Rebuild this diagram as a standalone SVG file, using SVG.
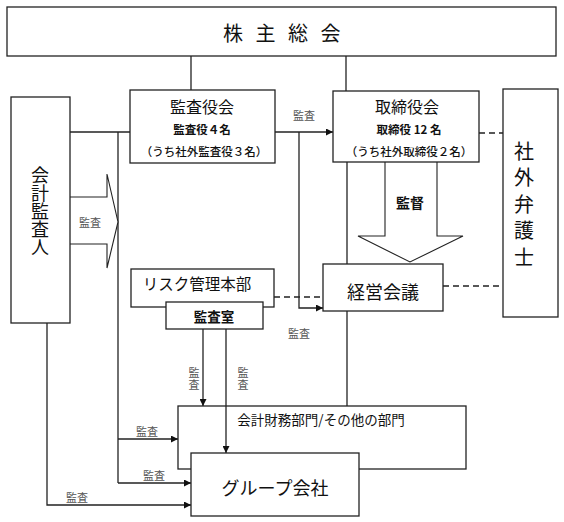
<svg xmlns="http://www.w3.org/2000/svg" width="564" height="522" viewBox="0 0 564 522">
<style>
text{font-family:"Noto Sans CJK JP","Noto Sans",sans-serif;fill:#111;dominant-baseline:central;text-anchor:middle}
.box{fill:#fff;stroke:#222;stroke-width:1.3}
.ln{fill:none;stroke:#222;stroke-width:1.3}
.dash{fill:none;stroke:#222;stroke-width:1.5;stroke-dasharray:6 4}
.big{fill:#fff;stroke:#222;stroke-width:1.1}
.lbl{font-size:11px;fill:#555}
.sm{font-size:11.5px}
.vert{writing-mode:vertical-rl;text-anchor:start}
</style>
<defs>
<marker id="ah" viewBox="0 0 10 10" refX="10" refY="5" markerWidth="7" markerHeight="7" markerUnits="userSpaceOnUse" orient="auto">
<path d="M0,0 L10,5 L0,10 z" fill="#111"/>
</marker>
</defs>
<rect x="0" y="0" width="564" height="522" fill="#fff"/>

<g id="connectors">
<path class="ln" d="M191,56 V90"/>
<path class="ln" d="M346,56 V91"/>
<path class="ln" d="M70,132 H130"/>
<path class="ln" d="M275,132 H333" marker-end="url(#ah)"/>
<path class="ln" d="M118,132 V483"/>
<path class="ln" d="M118,439 H178" marker-end="url(#ah)"/>
<path class="ln" d="M118,483 H191" marker-end="url(#ah)"/>
<path class="ln" d="M47,323 V505 H191" marker-end="url(#ah)"/>
<path class="ln" d="M299,132 V308 H323" marker-end="url(#ah)"/>
<path class="ln" d="M347,162 V264"/>
<path class="ln" d="M347,311 V406"/>
<path class="ln" d="M203,329 V406" marker-end="url(#ah)"/>
<path class="dash" d="M479,133 H503"/>
<path class="dash" d="M274,297 H323"/>
<path class="dash" d="M443,286 H503"/>
<path class="big" d="M70,197 H107 V174 L118,222 L107,268 V244 H70"/>
<path class="big" d="M385,162 V236 H358 L410,262 L463,236 H437 V162"/>
<text class="lbl" x="90" y="222">監査</text>
<text class="lbl" x="304" y="115">監査</text>
<text x="410" y="202" style="font-size:14px;font-weight:bold">監督</text>
<text class="lbl" x="299" y="333">監査</text>
<text class="lbl vert" x="194" y="367" style="letter-spacing:1px">監査</text>
<text class="lbl vert" x="243" y="367" style="letter-spacing:1px">監査</text>
<text class="lbl" x="147" y="431">監査</text>
<text class="lbl" x="154" y="475">監査</text>
<text class="lbl" x="77" y="497">監査</text>
</g>

<g id="shareholders">
<rect class="box" x="7" y="7" width="549" height="49"/>
<text x="282" y="32" style="font-size:20px;letter-spacing:12.5px" dx="6">株主総会</text>
</g>

<g id="auditor">
<rect class="box" x="11" y="97" width="59" height="226"/>
<text class="vert" x="40" y="166" style="font-size:18px">会計監査人</text>
</g>

<g id="kansayakukai">
<rect class="box" x="130" y="90" width="145" height="73"/>
<text x="202" y="106" style="font-size:16px">監査役会</text>
<text class="sm" x="202" y="129" style="font-weight:bold">監査役４名</text>
<text class="sm" x="204" y="151" style="font-weight:500">（うち社外監査役３名）</text>
</g>

<g id="torishimariyakukai">
<rect class="box" x="333" y="91" width="146" height="71"/>
<text x="407" y="106" style="font-size:16px">取締役会</text>
<text class="sm" x="409" y="129" style="font-weight:bold">取締役 12 名</text>
<text class="sm" x="409" y="151" style="font-weight:500">（うち社外取締役２名）</text>
</g>

<g id="lawyer">
<rect class="box" x="503" y="89" width="55" height="228"/>
<text class="vert" x="524" y="141" style="font-size:20px;letter-spacing:6.5px">社外弁護士</text>
</g>

<g id="keiei">
<rect class="box" x="323" y="264" width="120" height="47"/>
<text x="383" y="291" style="font-size:18px">経営会議</text>
</g>

<g id="risk">
<rect class="box" x="131" y="269" width="143" height="38"/>
<text x="197" y="283" style="font-size:15.5px">リスク管理本部</text>
</g>

<g id="kansashitsu">
<rect class="box" x="166" y="302" width="97" height="27"/>
<text x="214" y="316" style="font-size:13.5px;font-weight:bold">監査室</text>
</g>

<g id="departments">
<rect class="box" x="178" y="406" width="288" height="63"/>
<text x="321" y="419" style="font-size:13.5px">会計財務部門/その他の部門</text>
</g>

<g id="overlay">
<path class="ln" d="M226,329 V453" marker-end="url(#ah)"/>
</g>

<g id="group">
<rect class="box" x="191" y="453" width="168" height="63"/>
<text x="275" y="487" style="font-size:18px">グループ会社</text>
</g>
</svg>
